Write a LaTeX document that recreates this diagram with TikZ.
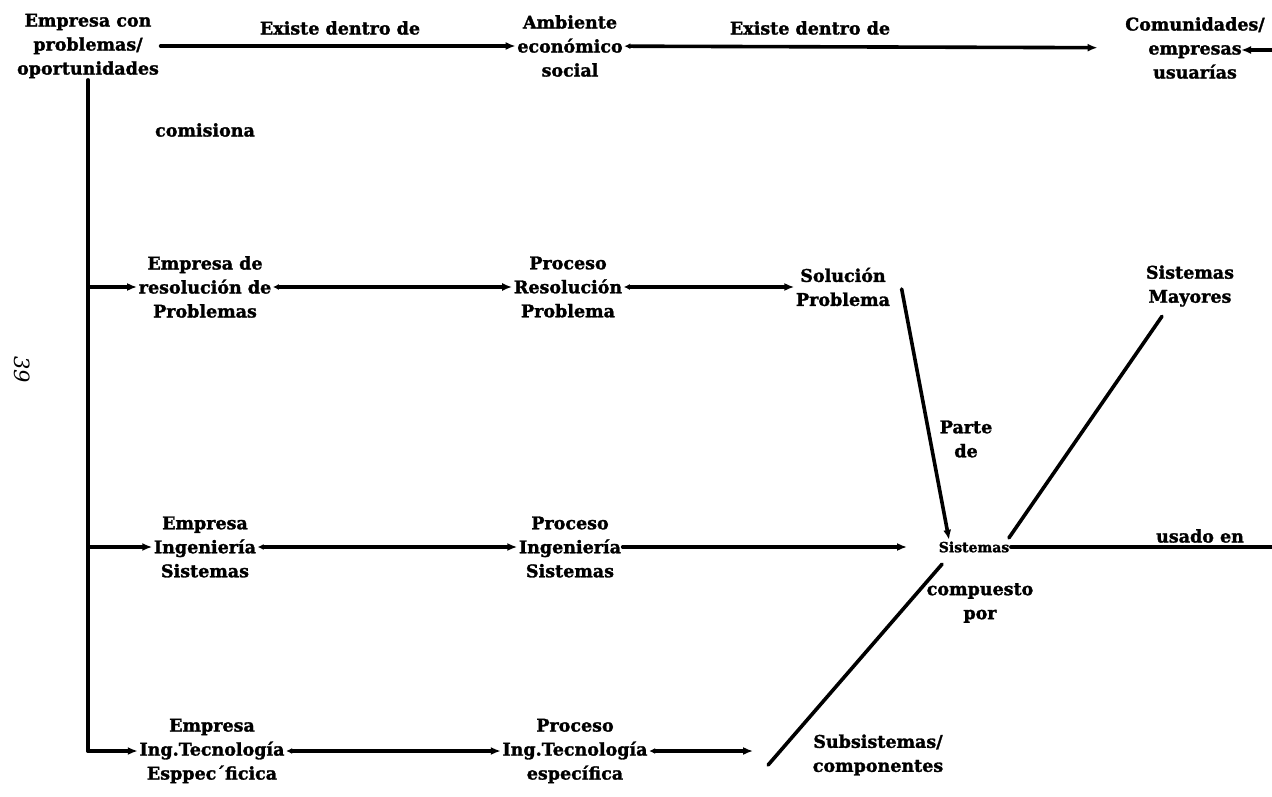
\documentclass[tikz,border=0pt]{standalone}
\usepackage{fontspec}
\setmainfont{DejaVu Serif}[BoldFeatures={FakeBold=1.6}]
\usetikzlibrary{arrows.meta,calc}

\begin{document}
\begin{tikzpicture}[x=1pt,y=-1pt,
  every node/.style={inner sep=1.5pt},
  txt/.style={font=\fontsize{17.5}{24}\selectfont\bfseries, align=center},
  plain/.style={font=\fontsize{14}{18}\selectfont\bfseries, align=center},
  pagenum/.style={font=\fontsize{21}{24}\selectfont\itshape, rotate=-90},
  link/.style={line width=3.6pt, line cap=round},
  arr/.style={link, -{Latex[length=10pt,width=8pt]}},
  barr/.style={link, {Latex[length=6pt,width=6pt]}-{Latex[length=10pt,width=8pt]}},
]
\useasboundingbox (0,0) rectangle (1272,797);

% top row
\node[txt] (emp) at (88,46) {Empresa con\\problemas/\\oportunidades};
\node[txt] (amb) at (570,46) {Ambiente\\económico\\social};
\node[txt] (com) at (1195,48) {Comunidades/\\empresas\\usuarías};

% second row
\node[txt] (er) at (205,287) {Empresa de\\resolución de\\Problemas};
\node[txt] (pr) at (568,287) {Proceso\\Resolución\\Problema};
\node[txt] (sp) at (843,287) {Solución\\Problema};
\node[txt] (sm) at (1190,286) {Sistemas\\Mayores};

% third row
\node[txt] (ei) at (205,547) {Empresa\\Ingeniería\\Sistemas};
\node[txt] (pi) at (570,547) {Proceso\\Ingeniería\\Sistemas};
\node[plain] (sis) at (974,547) {Sistemas};

% fourth row
\node[txt] (et) at (212,751) {Empresa\\Ing.Tecnología\\Esppec´ficica};
\node[txt] (pt) at (575,751) {Proceso\\Ing.Tecnología\\específica};
\node[txt] (sub) at (878,755) {Subsistemas/\\componentes};

% relation labels
\node[txt] (l1) at (340,28) {Existe dentro de};
\node[txt] (l2) at (810,28) {Existe dentro de};
\node[txt] (l3) at (205,130) {comisiona};
\node[txt] (l4) at (966,439) {Parte\\de};
\node[txt] (l5) at (1200,536) {usado en};
\node[txt] (l6) at (980,603) {compuesto\\por};
\node[pagenum] (pg) at (22,370) {39};

% helper points
\coordinate (rc) at (1274,0);
\coordinate (comin) at (1241,50);
\coordinate (subtip) at ($(sub.west)+(-58,0)$);

% top row links
\draw[arr] (emp) -- (amb);
\draw[barr, shorten >=26pt] (amb) -- (com);
\draw[arr] (sis.east) -- (sis.east -| rc) -- (rc |- comin) -- (comin);

% trunk and branches
\draw[link] (emp.south) -- (emp.south |- et.west);
\draw[arr] (emp.south |- er.west) -- (er.west);
\draw[arr] (emp.south |- ei.west) -- (ei.west);
\draw[arr] (emp.south |- et.west) -- (et.west);

% second row links
\draw[barr] (er) -- (pr);
\draw[barr] (pr) -- (sp);
\draw[arr] ($(sp.east)+(10,2)$) -- ($(sis.north west)+(12,0)$);
\draw[link] ($(sis.north east)+(-2,-2)$) -- ($(sm.south)+(-28,8)$);

% third row links
\draw[barr] (ei) -- (pi);
\draw[arr, shorten >=30pt] (pi) -- (sis);

% fourth row links
\draw[barr] (et) -- (pt);
\draw[barr] (pt.east) -- (pt.east -| subtip);
\draw[link] ($(sub.west)+(-43,10)$) -- ($(sis.south west)+(5,10)$);
\end{tikzpicture}
\end{document}
